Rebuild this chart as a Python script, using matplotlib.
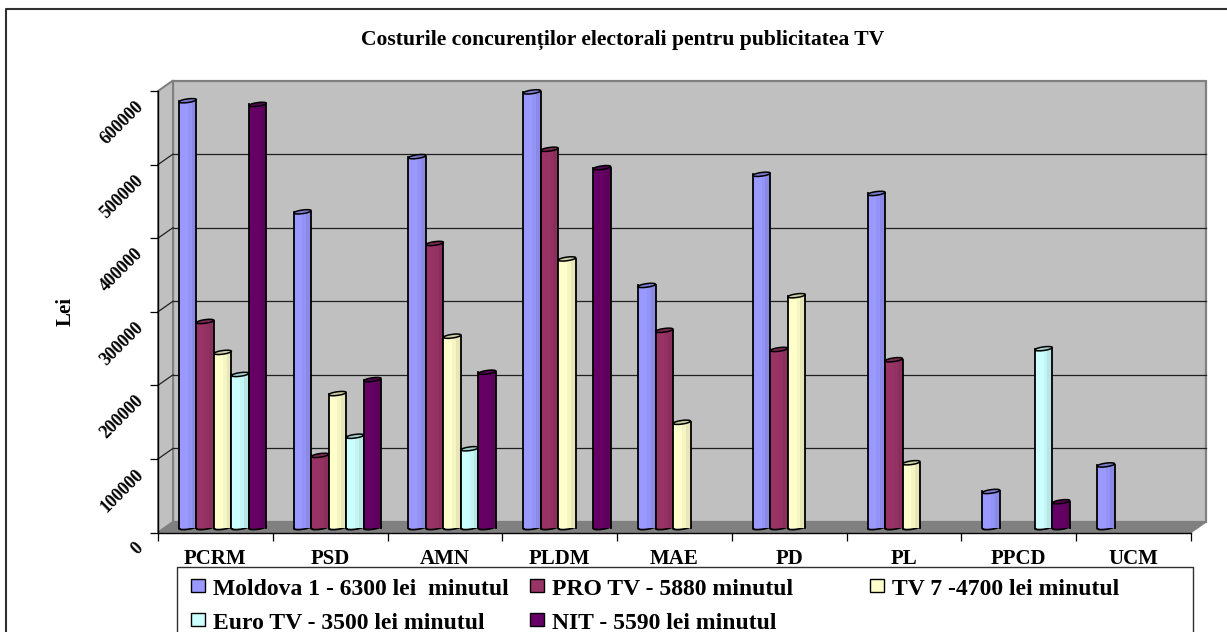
import numpy as np
import matplotlib
matplotlib.use("Agg")
import matplotlib.pyplot as plt
import matplotlib.patches as mpatches
from matplotlib.lines import Line2D
from matplotlib.transforms import Affine2D, IdentityTransform
from matplotlib.colors import to_rgb

#Values, nan = no bar
parties = ["PCRM", "PSD", "AMN", "PLDM", "MAE", "PD", "PL", "PPCD", "UCM"]
nan = np.nan
moldova1 = [580000, 429000, 504000, 592000, 329000, 480000, 454000, 49000, 85000]
pro_tv = [280000, 98000, 386000, 514000, 268000, 242000, 228000, nan, nan]
tv7 = [238000, 182000, 260000, 365000, 143000, 315000, 88000, nan, nan]
euro_tv = [208000, 124000, 107000, nan, nan, nan, nan, 243000, nan]
nit = [575000, 201000, 211000, 489000, nan, nan, nan, 35000, nan]
y_ticks = [0, 100000, 200000, 300000, 400000, 500000, 600000]

series = [moldova1, pro_tv, tv7, euro_tv, nit]
colors = ["#9999FF", "#993366", "#FFFFCC", "#CCFFFF", "#660066"]

title = "Costurile concurenților electorali pentru publicitatea TV"
legend_rows = [
    ("Moldova 1 - 6300 lei  minutul", 0, 0, 0),
    ("PRO TV - 5880 minutul", 1, 1, 0),
    ("TV 7 -4700 lei minutul", 2, 2, 0),
    ("Euro TV - 3500 lei minutul", 3, 0, 1),
    ("NIT - 5590 lei minutul", 4, 1, 1),
]

W, H = 1227, 632
plt.rcParams["font.family"] = ["Liberation Serif", "DejaVu Serif"]
plt.rcParams["font.weight"] = "bold"

fig = plt.figure(figsize=(W / 100, H / 100), dpi=100)


#pixel position (y from the top) to figure fraction
def fx(x):
    return x / W


def fy(y):
    return 1 - y / H


#Outer frame, only left and top are in the picture
fig.add_artist(Line2D([fx(5.5), fx(5.5), 1], [0, fy(9), fy(9)], color="#303030", lw=1.5))

#Front plane of the 3d box
ax = fig.add_axes([fx(158), fy(532.5), fx(1191 - 158), fy(91) - fy(532.5)])
ax.set_xlim(0, 9)
ax.set_ylim(0, 600000)
ax.patch.set_visible(False)
for s in ["top", "right"]:
    ax.spines[s].set_visible(False)
for s in ["left", "bottom"]:
    ax.spines[s].set_color("black")
    ax.spines[s].set_linewidth(1.0)
    ax.spines[s].set_zorder(1.5)

back = ax.transData + Affine2D().translate(15, 10.5)
mid = ax.transData + Affine2D().translate(7.3, 5)
pixel = IdentityTransform()


def corner(x, y):
    return ax.transData.transform((x, y))


def back_corner(x, y):
    return back.transform((x, y))


#Walls and floor
ax.add_patch(mpatches.Rectangle((0, 0), 9, 600000, transform=back, facecolor="#C0C0C0",
                                edgecolor="#808080", lw=1.6, clip_on=False, zorder=0.2))
ax.add_patch(mpatches.Polygon([corner(0, 0), back_corner(0, 0), back_corner(0, 600000), corner(0, 600000)],
                              transform=pixel, facecolor="#C0C0C0", edgecolor="#808080", lw=1.4,
                              clip_on=False, zorder=0.3))
ax.add_patch(mpatches.Polygon([corner(0, 0), corner(9, 0), back_corner(9, 0), back_corner(0, 0)],
                              transform=pixel, facecolor="#808080", edgecolor="#808080", lw=1,
                              clip_on=False, zorder=0.4))

#Gridlines on back wall and side wall
for v in y_ticks[1:-1]:
    ax.plot([0, 9], [v, v], transform=back, color="#202020", lw=0.9, clip_on=False, zorder=0.5)
for v in y_ticks[1:]:
    a, b = corner(0, v), back_corner(0, v)
    col = "#202020" if v < 600000 else "#808080"
    ax.plot([a[0], b[0]], [a[1], b[1]], transform=pixel, color=col, lw=0.9, clip_on=False, zorder=0.5)

#Cylinders
group_w = 5 * 17.5 / (1033 / 9)
bar_w = group_w / 5
px_w = 17.5
z = 2.0
for i, vals in enumerate(series):
    base = np.array(to_rgb(colors[i]))
    for j, v in enumerate(vals):
        if np.isnan(v):
            continue
        left = j + (1 - group_w) / 2 + i * bar_w
        center = left + bar_w / 2
        c0 = mid.transform((center, 0))
        c1 = mid.transform((center, v))
        #round foot
        ax.add_patch(mpatches.Ellipse(c0, px_w, 3.6, angle=8, transform=pixel, facecolor=base * 0.88,
                                      edgecolor="black", lw=1.2, clip_on=False, zorder=z))
        #body, lighter on the left and darker towards the right
        ax.bar(left, v, bar_w, align="edge", color=base, transform=mid, clip_on=False, zorder=z + 0.1)
        ax.bar(left + 0.5 * bar_w, v, 0.5 * bar_w, align="edge", color=base * 0.96, transform=mid,
               clip_on=False, zorder=z + 0.11)
        ax.bar(left + 0.72 * bar_w, v, 0.28 * bar_w, align="edge", color=base * 0.9, transform=mid,
               clip_on=False, zorder=z + 0.12)
        ax.plot([left, left], [0, v], transform=mid, color="black", lw=1.3, clip_on=False, zorder=z + 0.2)
        ax.plot([left + bar_w, left + bar_w], [0, v], transform=mid, color="black", lw=1.3, clip_on=False,
                zorder=z + 0.2)
        #top
        ax.add_patch(mpatches.Ellipse(c1, px_w, 3.6, angle=8, transform=pixel, facecolor=base * 0.8,
                                      edgecolor="black", lw=1.1, clip_on=False, zorder=z + 0.3))
        z += 1

#Axis ticks and labels
ax.set_xticks(range(10))
ax.set_xticklabels([])
ax.set_xticks(np.arange(9) + 0.5, minor=True)
ax.set_xticklabels(parties, minor=True, fontsize=15, fontweight="bold")
ax.tick_params(axis="x", which="major", length=5.5, width=0.9, color="black")
ax.tick_params(axis="x", which="minor", length=0, pad=12)
ax.set_yticks(y_ticks)
ax.set_yticklabels([str(v) for v in y_ticks], fontsize=13, fontweight="bold", rotation=45,
                   rotation_mode="anchor", ha="right", va="center")
ax.tick_params(axis="y", length=5.5, width=0.9, color="black", pad=7)
for lab in ax.get_yticklabels():
    lab.set_transform(lab.get_transform() + Affine2D().translate(0, -13))

fig.text(fx(66), fy(312), "Lei", rotation=90, ha="center", va="center", fontsize=15, fontweight="bold")
fig.text(fx(623), fy(40), title, ha="center", va="center", fontsize=15.6, fontweight="bold")

#Legend box, runs off the bottom of the picture
fig.add_artist(Line2D([fx(177), fx(177), fx(1193), fx(1193)], [0, fy(566.5), fy(566.5), 0],
                      color="#303030", lw=1.0))
col_x = [191, 530, 870]
row_y = [585.5, 619.5]
for label, ci, col, row in legend_rows:
    fig.add_artist(mpatches.Rectangle((fx(col_x[col]), fy(row_y[row] + 6.5)), fx(14), 13 / H,
                                      transform=fig.transFigure, facecolor=colors[ci],
                                      edgecolor="black", lw=1.0))
    fig.text(fx(col_x[col] + 22), fy(row_y[row] + 4), label, ha="left", va="center",
             fontsize=17, fontweight="bold")

fig.savefig("out.png", dpi=100, facecolor="white")
